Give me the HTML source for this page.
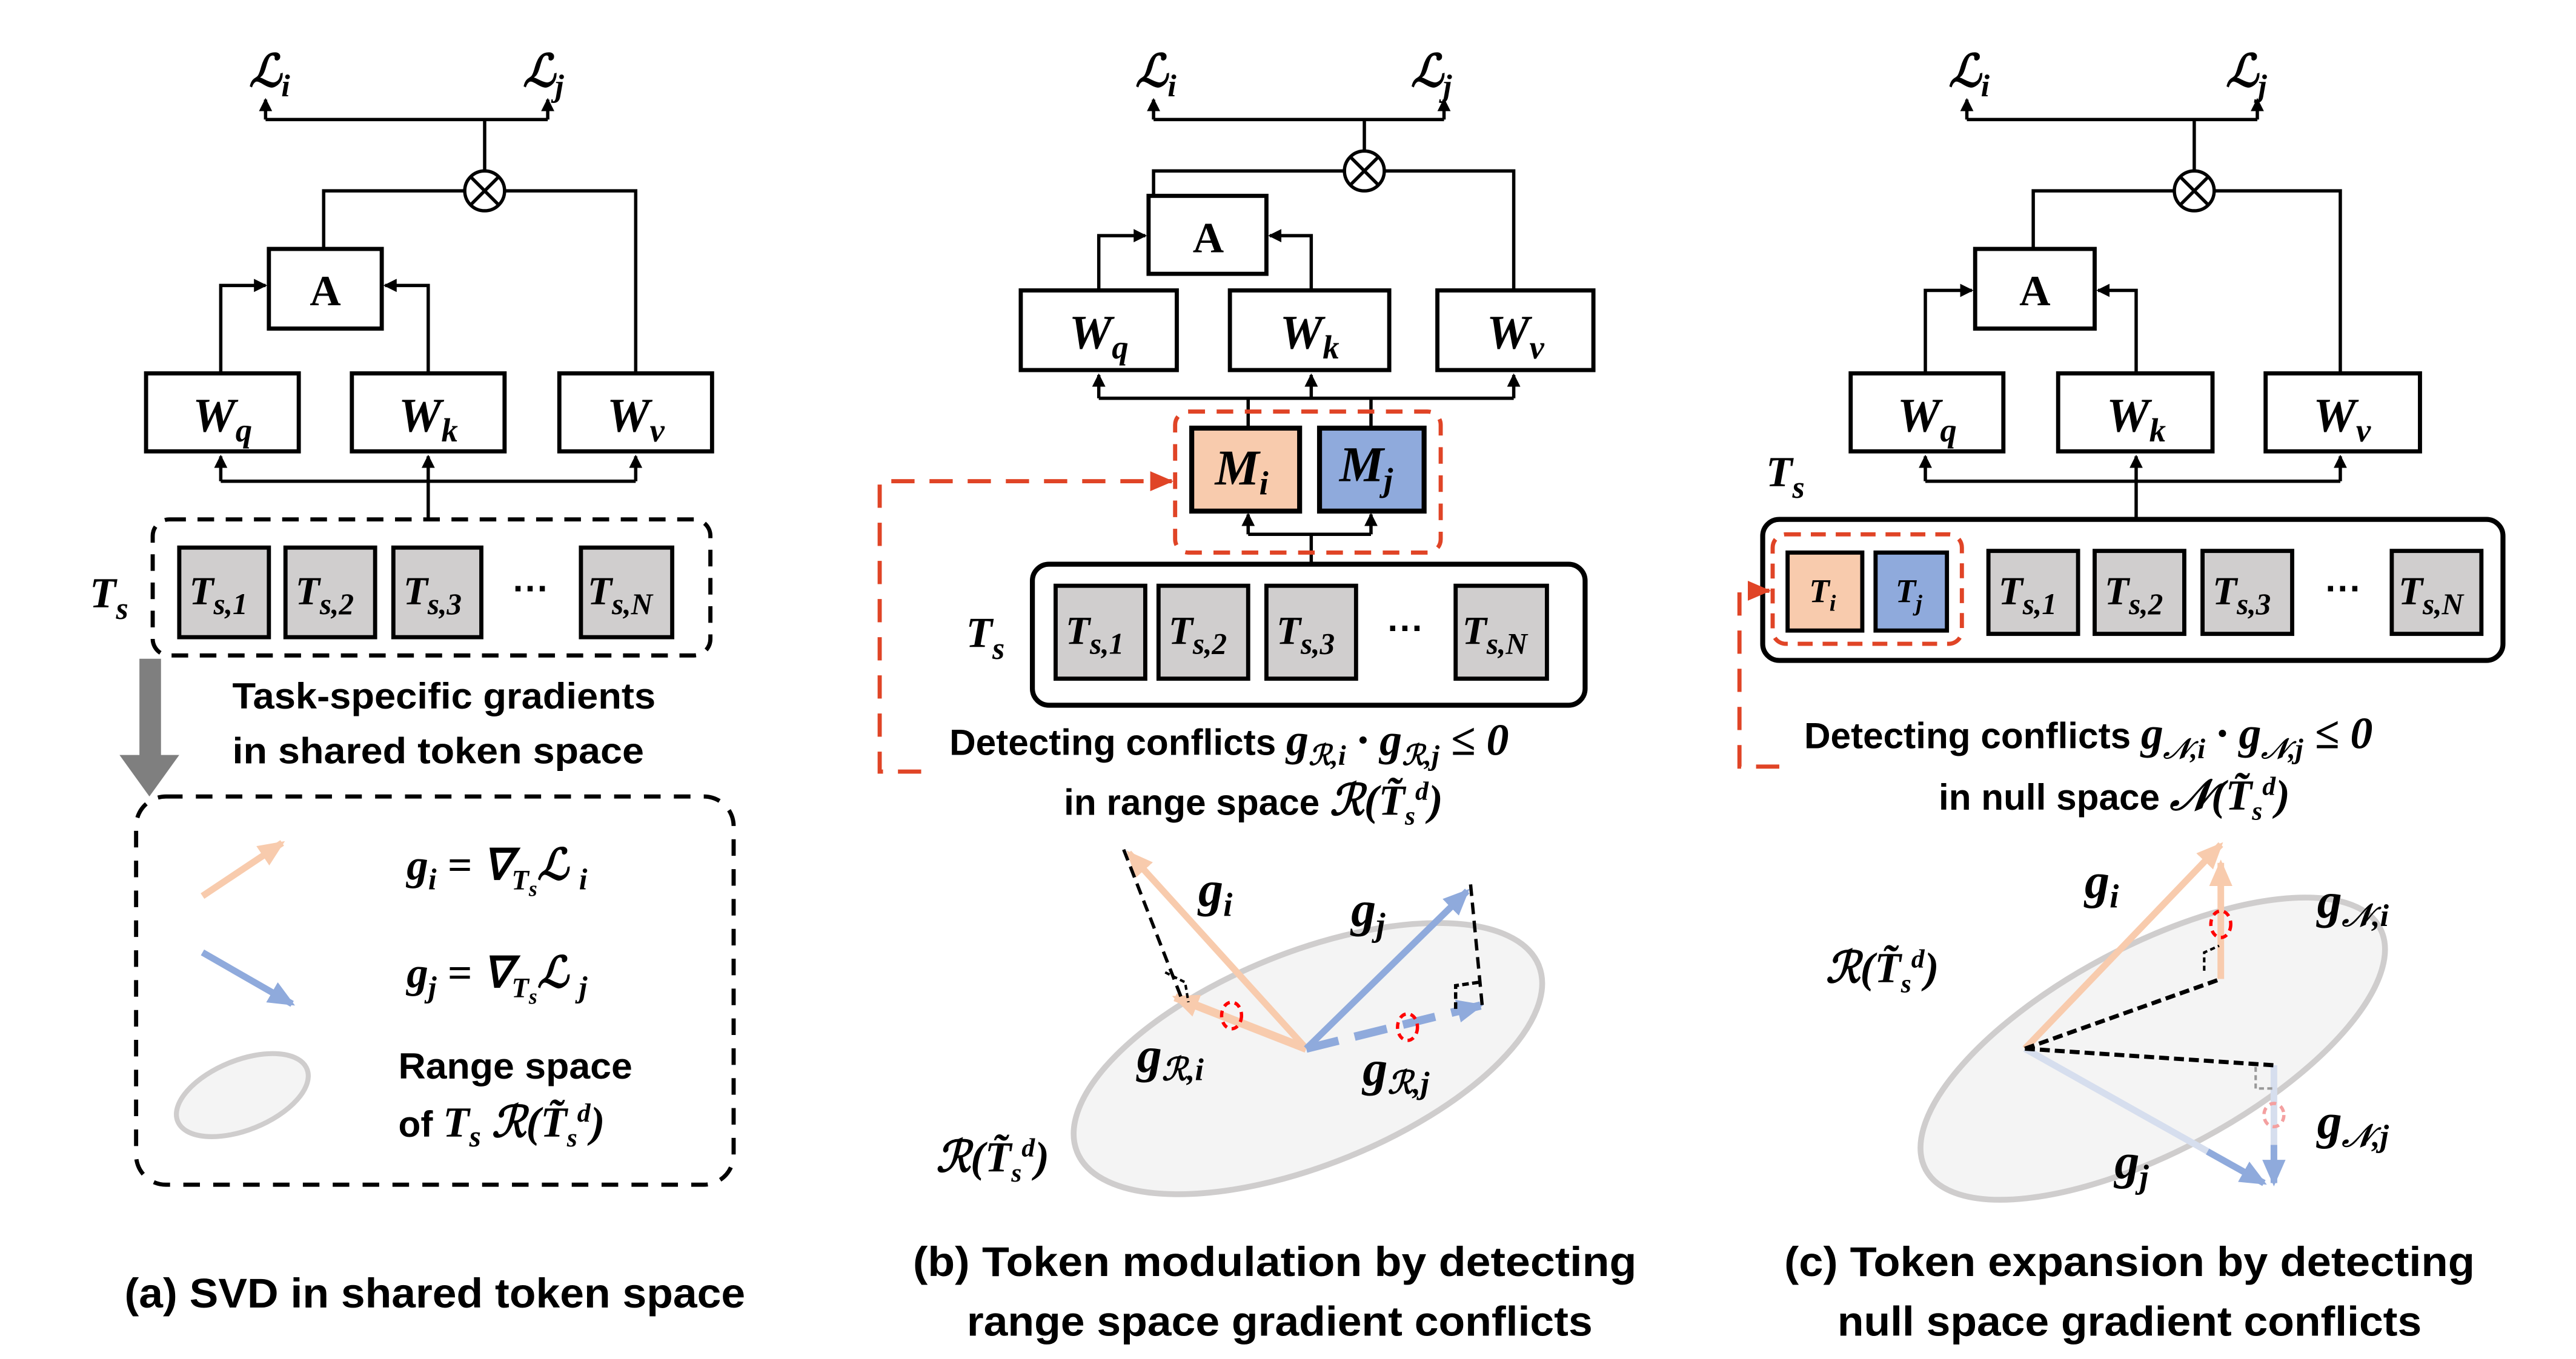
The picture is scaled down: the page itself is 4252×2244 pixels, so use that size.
<!DOCTYPE html>
<html><head><meta charset="utf-8"><style>
html,body{margin:0;padding:0;background:#fff;}
svg{display:block;}
.m{font-family:"Liberation Serif",serif;font-style:italic;font-weight:bold;}
.t{font-family:"Liberation Sans",sans-serif;font-weight:bold;}
</style></head><body>
<svg width="4252" height="2244" viewBox="0 0 1552 819" xmlns="http://www.w3.org/2000/svg">
<defs>
<marker id="ar" markerWidth="8" markerHeight="8" refX="7" refY="4" orient="auto" markerUnits="userSpaceOnUse"><path d="M0,0 L8,4 L0,8 z" fill="#000"/></marker>
<marker id="rr" markerWidth="14" markerHeight="12" refX="13" refY="6" orient="auto" markerUnits="userSpaceOnUse"><path d="M0,0 L14,6 L0,12 z" fill="#E04426"/></marker>
<marker id="po" markerWidth="16" markerHeight="14" refX="14" refY="7" orient="auto" markerUnits="userSpaceOnUse"><path d="M0,0 L16,7 L0,14 z" fill="#F8CBAD"/></marker>
<marker id="bl" markerWidth="16" markerHeight="14" refX="14" refY="7" orient="auto" markerUnits="userSpaceOnUse"><path d="M0,0 L16,7 L0,14 z" fill="#8FAADC"/></marker>
</defs>
<rect width="1552" height="819" fill="#fff"/>

<!-- ============ PANEL A ============ -->
<g stroke="#000" stroke-width="2" fill="none">
<path d="M160,72 H330"/><path d="M160,72 V60" marker-end="url(#ar)"/><path d="M330,72 V60" marker-end="url(#ar)"/>
<path d="M292,72 V103"/>
<circle cx="292" cy="115" r="12"/><path d="M283.5,106.5 L300.5,123.5 M300.5,106.5 L283.5,123.5"/>
<path d="M280,115 H195 V150"/><path d="M304,115 H383 V225"/>
<path d="M133,225 V172 H160" marker-end="url(#ar)"/><path d="M258,225 V172 H232" marker-end="url(#ar)"/>
<path d="M133,290 H383"/><path d="M133,290 V275" marker-end="url(#ar)"/><path d="M258,290 V275" marker-end="url(#ar)"/><path d="M383,290 V275" marker-end="url(#ar)"/>
<path d="M258,313 V290"/>
</g>
<g stroke="#000" stroke-width="2.5" fill="#fff">
<rect x="162" y="150" width="68" height="48"/>
<rect x="88" y="225" width="92" height="47"/><rect x="212" y="225" width="92" height="47"/><rect x="337" y="225" width="92" height="47"/>
</g>
<text x="196" y="184" class="m" font-size="26" text-anchor="middle" style="font-style:normal">A</text>
<text x="134" y="260" class="m" font-size="29" text-anchor="middle">W<tspan font-size="20" dy="6">q</tspan></text>
<text x="258" y="260" class="m" font-size="29" text-anchor="middle">W<tspan font-size="20" dy="6">k</tspan></text>
<text x="383" y="260" class="m" font-size="29" text-anchor="middle">W<tspan font-size="20" dy="6">v</tspan></text>
<text x="150" y="52" class="m" font-size="27">ℒ<tspan font-size="19" dy="6">i</tspan></text>
<text x="315" y="52" class="m" font-size="27">ℒ<tspan font-size="19" dy="6">j</tspan></text>

<rect x="92" y="313" width="336" height="82" rx="10" fill="none" stroke="#000" stroke-width="2.5" stroke-dasharray="10,7"/>
<text x="54" y="366" class="m" font-size="26">T<tspan font-size="19" dy="7">s</tspan></text>
<g stroke="#000" stroke-width="2.5" fill="#D0CECE">
<rect x="108" y="330" width="54" height="54"/><rect x="172" y="330" width="54" height="54"/><rect x="237" y="330" width="53" height="54"/><rect x="350" y="330" width="55" height="54"/>
</g>
<g class="m" font-size="24">
<text x="114" y="364">T<tspan font-size="18" dy="6">s,1</tspan></text>
<text x="178" y="364">T<tspan font-size="18" dy="6">s,2</tspan></text>
<text x="243" y="364">T<tspan font-size="18" dy="6">s,3</tspan></text>
<text x="354" y="364">T<tspan font-size="18" dy="6">s,N</tspan></text>
</g>
<text x="320" y="362" font-family="Liberation Sans" font-weight="bold" font-size="22" text-anchor="middle">···</text>

<path d="M84,397 H97 V455 H108 L90,480 L72,455 H84 Z" fill="#7F7F7F"/>
<text x="140" y="427" class="t" font-size="22" textLength="255" lengthAdjust="spacingAndGlyphs">Task-specific gradients</text>
<text x="140" y="460" class="t" font-size="22" textLength="248" lengthAdjust="spacingAndGlyphs">in shared token space</text>

<rect x="82" y="480" width="360" height="234" rx="18" fill="none" stroke="#000" stroke-width="2.5" stroke-dasharray="10,8"/>
<line x1="122" y1="540" x2="170" y2="508" stroke="#F8CBAD" stroke-width="4" marker-end="url(#po)"/>
<line x1="122" y1="574" x2="176" y2="605" stroke="#8FAADC" stroke-width="4" marker-end="url(#bl)"/>
<ellipse cx="146" cy="660" rx="42" ry="21" transform="rotate(-22 146 660)" fill="#F4F4F4" stroke="#CFCDCD" stroke-width="3"/>
<text x="245" y="530" class="m" font-size="26">g<tspan font-size="18" dy="6">i</tspan><tspan dy="-6"> = ∇</tspan><tspan font-size="17" dy="6">T</tspan><tspan font-size="13" dy="4">s</tspan><tspan dy="-10">ℒ </tspan><tspan font-size="18" dy="6">i</tspan></text>
<text x="245" y="595" class="m" font-size="26">g<tspan font-size="18" dy="6">j</tspan><tspan dy="-6"> = ∇</tspan><tspan font-size="17" dy="6">T</tspan><tspan font-size="13" dy="4">s</tspan><tspan dy="-10">ℒ </tspan><tspan font-size="18" dy="6">j</tspan></text>
<text x="240" y="650" class="t" font-size="22" textLength="141" lengthAdjust="spacingAndGlyphs">Range space</text>
<text x="240" y="685" class="t" font-size="22">of <tspan class="m" font-size="26">T</tspan><tspan class="m" font-size="18" dy="6">s</tspan><tspan class="m" font-size="26" dy="-6">  ℛ(T̃</tspan><tspan class="m" font-size="16" dy="6">s</tspan><tspan class="m" font-size="16" dy="-15">d</tspan><tspan class="m" font-size="26" dy="9">)</tspan></text>
<text x="262" y="796" class="t" font-size="25" text-anchor="middle" textLength="374" lengthAdjust="spacingAndGlyphs" dy="-8">(a) SVD in shared token space</text>

<!-- ============ PANEL B ============ -->
<g stroke="#000" stroke-width="2" fill="none">
<path d="M695,72 H870"/><path d="M695,72 V60" marker-end="url(#ar)"/><path d="M870,72 V60" marker-end="url(#ar)"/>
<path d="M822,72 V91"/>
<circle cx="822" cy="103" r="12"/><path d="M813.5,94.5 L830.5,111.5 M830.5,94.5 L813.5,111.5"/>
<path d="M810,103 H695 V118"/><path d="M834,103 H912 V175"/>
<path d="M662,175 V142 H690" marker-end="url(#ar)"/><path d="M790,175 V142 H765" marker-end="url(#ar)"/>
<path d="M662,240 H912"/><path d="M662,240 V226" marker-end="url(#ar)"/><path d="M790,240 V226" marker-end="url(#ar)"/><path d="M912,240 V226" marker-end="url(#ar)"/>
<path d="M752,258 V240"/><path d="M826,258 V240"/>
<path d="M790,340 V322"/><path d="M752,322 H826"/><path d="M752,322 V310" marker-end="url(#ar)"/><path d="M826,322 V310" marker-end="url(#ar)"/>
</g>
<g stroke="#000" stroke-width="2.5" fill="#fff">
<rect x="692" y="118" width="71" height="47"/>
<rect x="615" y="175" width="94" height="48"/><rect x="741" y="175" width="96" height="48"/><rect x="866" y="175" width="94" height="48"/>
</g>
<text x="728" y="152" class="m" font-size="26" text-anchor="middle" style="font-style:normal">A</text>
<text x="662" y="210" class="m" font-size="29" text-anchor="middle">W<tspan font-size="20" dy="6">q</tspan></text>
<text x="789" y="210" class="m" font-size="29" text-anchor="middle">W<tspan font-size="20" dy="6">k</tspan></text>
<text x="913" y="210" class="m" font-size="29" text-anchor="middle">W<tspan font-size="20" dy="6">v</tspan></text>
<text x="684" y="52" class="m" font-size="27">ℒ<tspan font-size="19" dy="6">i</tspan></text>
<text x="850" y="52" class="m" font-size="27">ℒ<tspan font-size="19" dy="6">j</tspan></text>

<rect x="708" y="248" width="160" height="85" rx="8" fill="none" stroke="#E04426" stroke-width="2.5" stroke-dasharray="10,7"/>
<rect x="718" y="258" width="65" height="50" fill="#F8CBAD" stroke="#000" stroke-width="3"/>
<rect x="795" y="258" width="63" height="50" fill="#8FAADC" stroke="#000" stroke-width="3"/>
<text x="732" y="292" class="m" font-size="30">M<tspan font-size="20" dy="6">i</tspan></text>
<text x="807" y="290" class="m" font-size="30">M<tspan font-size="20" dy="6">j</tspan></text>
<path d="M555,465 H530 V290 H706" fill="none" stroke="#E04426" stroke-width="2.5" stroke-dasharray="14,9" marker-end="url(#rr)"/>

<rect x="622" y="340" width="333" height="85" rx="10" fill="none" stroke="#000" stroke-width="3"/>
<text x="582" y="390" class="m" font-size="26">T<tspan font-size="19" dy="7">s</tspan></text>
<g stroke="#000" stroke-width="2.5" fill="#D0CECE">
<rect x="636" y="353" width="54" height="56"/><rect x="698" y="353" width="54" height="56"/><rect x="763" y="353" width="54" height="56"/><rect x="877" y="353" width="55" height="56"/>
</g>
<g class="m" font-size="24">
<text x="642" y="388">T<tspan font-size="18" dy="6">s,1</tspan></text>
<text x="704" y="388">T<tspan font-size="18" dy="6">s,2</tspan></text>
<text x="769" y="388">T<tspan font-size="18" dy="6">s,3</tspan></text>
<text x="881" y="388">T<tspan font-size="18" dy="6">s,N</tspan></text>
</g>
<text x="847" y="386" font-family="Liberation Sans" font-weight="bold" font-size="22" text-anchor="middle">···</text>

<text x="572" y="455" class="t" font-size="22">Detecting conflicts <tspan class="m" font-size="27">g</tspan><tspan class="m" font-size="17" dy="6">ℛ,i</tspan><tspan class="m" font-size="27" dy="-6"> · g</tspan><tspan class="m" font-size="17" dy="6">ℛ,j</tspan><tspan class="m" font-size="27" dy="-6"> ≤ 0</tspan></text>
<text x="641" y="491" class="t" font-size="22">in range space <tspan class="m" font-size="26">ℛ(T̃</tspan><tspan class="m" font-size="16" dy="6">s</tspan><tspan class="m" font-size="16" dy="-15">d</tspan><tspan class="m" font-size="26" dy="9">)</tspan></text>

<ellipse cx="788" cy="638" rx="150" ry="64" transform="rotate(-22 788 638)" fill="#F4F4F4" stroke="#CFCDCD" stroke-width="3.5"/>
<line x1="787" y1="632" x2="680" y2="514" stroke="#F8CBAD" stroke-width="4" marker-end="url(#po)"/>
<line x1="787" y1="632" x2="708" y2="601" stroke="#F8CBAD" stroke-width="5" marker-end="url(#po)"/>
<line x1="787" y1="632" x2="884" y2="537" stroke="#8FAADC" stroke-width="4" marker-end="url(#bl)"/>
<line x1="787" y1="632" x2="892" y2="606" stroke="#8FAADC" stroke-width="5" stroke-dasharray="20,10" marker-end="url(#bl)"/>
<path d="M677,512 L712,602" stroke="#000" stroke-width="2" stroke-dasharray="7,4" fill="none"/>
<path d="M702,586 L714,592 L716,604" stroke="#000" stroke-width="1.5" stroke-dasharray="3,2" fill="none"/>
<path d="M886,533 L893,606" stroke="#000" stroke-width="2" stroke-dasharray="7,4" fill="none"/>
<path d="M877,608 L877,594 L891,592" stroke="#000" stroke-width="2" stroke-dasharray="4,2" fill="none"/>
<ellipse cx="742" cy="612" rx="6" ry="8" fill="none" stroke="#f00" stroke-width="2" stroke-dasharray="4,3"/>
<ellipse cx="848" cy="619" rx="6" ry="8" fill="none" stroke="#f00" stroke-width="2" stroke-dasharray="4,3"/>
<text x="722" y="546" class="m" font-size="30">g<tspan font-size="20" dy="6">i</tspan></text>
<text x="814" y="558" class="m" font-size="30">g<tspan font-size="20" dy="6">j</tspan></text>
<text x="685" y="646" class="m" font-size="30">g<tspan font-size="19" dy="5">ℛ,i</tspan></text>
<text x="821" y="654" class="m" font-size="30">g<tspan font-size="19" dy="5">ℛ,j</tspan></text>
<text x="564" y="706" class="m" font-size="26">ℛ(T̃<tspan font-size="16" dy="6">s</tspan><tspan font-size="16" dy="-15">d</tspan><tspan dy="9">)</tspan></text>
<text x="768" y="777" dy="-8" class="t" font-size="25" text-anchor="middle" textLength="436" lengthAdjust="spacingAndGlyphs">(b) Token modulation by detecting</text>
<text x="771" y="813" dy="-8" class="t" font-size="25" text-anchor="middle" textLength="377" lengthAdjust="spacingAndGlyphs">range space gradient conflicts</text>

<!-- ============ PANEL C ============ -->
<g stroke="#000" stroke-width="2" fill="none">
<path d="M1185,72 H1360"/><path d="M1185,72 V60" marker-end="url(#ar)"/><path d="M1360,72 V60" marker-end="url(#ar)"/>
<path d="M1322,72 V103"/>
<circle cx="1322" cy="115" r="12"/><path d="M1313.5,106.5 L1330.5,123.5 M1330.5,106.5 L1313.5,123.5"/>
<path d="M1310,115 H1225 V150"/><path d="M1334,115 H1410 V225"/>
<path d="M1160,225 V175 H1188" marker-end="url(#ar)"/><path d="M1287,225 V175 H1264" marker-end="url(#ar)"/>
<path d="M1160,290 H1410"/><path d="M1160,290 V275" marker-end="url(#ar)"/><path d="M1287,290 V275" marker-end="url(#ar)"/><path d="M1410,290 V275" marker-end="url(#ar)"/>
<path d="M1287,313 V290"/>
</g>
<g stroke="#000" stroke-width="2.5" fill="#fff">
<rect x="1190" y="150" width="72" height="48"/>
<rect x="1115" y="225" width="92" height="47"/><rect x="1240" y="225" width="93" height="47"/><rect x="1365" y="225" width="93" height="47"/>
</g>
<text x="1226" y="184" class="m" font-size="26" text-anchor="middle" style="font-style:normal">A</text>
<text x="1161" y="260" class="m" font-size="29" text-anchor="middle">W<tspan font-size="20" dy="6">q</tspan></text>
<text x="1287" y="260" class="m" font-size="29" text-anchor="middle">W<tspan font-size="20" dy="6">k</tspan></text>
<text x="1411" y="260" class="m" font-size="29" text-anchor="middle">W<tspan font-size="20" dy="6">v</tspan></text>
<text x="1174" y="52" class="m" font-size="27">ℒ<tspan font-size="19" dy="6">i</tspan></text>
<text x="1341" y="52" class="m" font-size="27">ℒ<tspan font-size="19" dy="6">j</tspan></text>
<text x="1064" y="293" class="m" font-size="26">T<tspan font-size="19" dy="7">s</tspan></text>

<rect x="1062" y="313" width="446" height="85" rx="10" fill="none" stroke="#000" stroke-width="3"/>
<rect x="1068" y="322" width="114" height="66" rx="8" fill="none" stroke="#E04426" stroke-width="2.5" stroke-dasharray="9,6"/>
<rect x="1077" y="333" width="45" height="47" fill="#F8CBAD" stroke="#000" stroke-width="2.5"/>
<rect x="1130" y="333" width="43" height="47" fill="#8FAADC" stroke="#000" stroke-width="2.5"/>
<text x="1090" y="363" class="m" font-size="20">T<tspan font-size="14" dy="5">i</tspan></text>
<text x="1142" y="363" class="m" font-size="20">T<tspan font-size="14" dy="5">j</tspan></text>
<path d="M1072,462 H1048 V356 H1066" fill="none" stroke="#E04426" stroke-width="2.5" stroke-dasharray="14,9" marker-end="url(#rr)"/>
<g stroke="#000" stroke-width="2.5" fill="#D0CECE">
<rect x="1198" y="332" width="54" height="50"/><rect x="1262" y="332" width="54" height="50"/><rect x="1327" y="332" width="54" height="50"/><rect x="1441" y="332" width="54" height="50"/>
</g>
<g class="m" font-size="24">
<text x="1204" y="364">T<tspan font-size="18" dy="6">s,1</tspan></text>
<text x="1268" y="364">T<tspan font-size="18" dy="6">s,2</tspan></text>
<text x="1333" y="364">T<tspan font-size="18" dy="6">s,3</tspan></text>
<text x="1445" y="364">T<tspan font-size="18" dy="6">s,N</tspan></text>
</g>
<text x="1412" y="362" font-family="Liberation Sans" font-weight="bold" font-size="22" text-anchor="middle">···</text>

<text x="1087" y="451" class="t" font-size="22">Detecting conflicts <tspan class="m" font-size="27">g</tspan><tspan class="m" font-size="17" dy="6">𝒩,i</tspan><tspan class="m" font-size="27" dy="-6"> · g</tspan><tspan class="m" font-size="17" dy="6">𝒩,j</tspan><tspan class="m" font-size="27" dy="-6"> ≤ 0</tspan></text>
<text x="1168" y="488" class="t" font-size="22">in null space <tspan class="m" font-size="26">𝒩(T̃</tspan><tspan class="m" font-size="16" dy="6">s</tspan><tspan class="m" font-size="16" dy="-15">d</tspan><tspan class="m" font-size="26" dy="9">)</tspan></text>

<ellipse cx="1297" cy="632" rx="155" ry="62" transform="rotate(-28 1297 632)" fill="#F4F4F4" stroke="#CFCDCD" stroke-width="3.5"/>
<line x1="1220" y1="632" x2="1338" y2="509" stroke="#F8CBAD" stroke-width="4" marker-end="url(#po)"/>
<line x1="1338" y1="590" x2="1338" y2="520" stroke="#F8CBAD" stroke-width="4" marker-end="url(#po)"/>
<line x1="1220" y1="632" x2="1364" y2="713" stroke="#D6DEEE" stroke-width="4"/>
<line x1="1330" y1="694" x2="1364" y2="713" stroke="#8FAADC" stroke-width="4" marker-end="url(#bl)"/>
<line x1="1370" y1="642" x2="1370" y2="712" stroke="#D6DEEE" stroke-width="4"/>
<line x1="1370" y1="690" x2="1370" y2="713" stroke="#8FAADC" stroke-width="4" marker-end="url(#bl)"/>
<path d="M1220,632 L1338,590" stroke="#000" stroke-width="2.5" stroke-dasharray="6,3" fill="none"/>
<path d="M1220,632 L1370,642" stroke="#000" stroke-width="2.5" stroke-dasharray="6,3" fill="none"/>
<path d="M1328,585 V574 L1337,570" stroke="#000" stroke-width="1.5" stroke-dasharray="3,2" fill="none"/>
<path d="M1359,643 V656 H1370" stroke="#999" stroke-width="1.5" stroke-dasharray="3,2" fill="none"/>
<ellipse cx="1338" cy="557" rx="6" ry="8" fill="none" stroke="#f00" stroke-width="2" stroke-dasharray="4,3"/>
<ellipse cx="1370" cy="672" rx="6" ry="7" fill="none" stroke="#F4A0A0" stroke-width="2" stroke-dasharray="4,3"/>
<text x="1256" y="541" class="m" font-size="30">g<tspan font-size="20" dy="6">i</tspan></text>
<text x="1396" y="553" class="m" font-size="30">g<tspan font-size="19" dy="5">𝒩,i</tspan></text>
<text x="1100" y="592" class="m" font-size="26">ℛ(T̃<tspan font-size="16" dy="6">s</tspan><tspan font-size="16" dy="-15">d</tspan><tspan dy="9">)</tspan></text>
<text x="1396" y="686" class="m" font-size="30">g<tspan font-size="19" dy="5">𝒩,j</tspan></text>
<text x="1274" y="710" class="m" font-size="30">g<tspan font-size="20" dy="6">j</tspan></text>
<text x="1283" y="777" dy="-8" class="t" font-size="25" text-anchor="middle" textLength="416" lengthAdjust="spacingAndGlyphs">(c) Token expansion by detecting</text>
<text x="1283" y="813" dy="-8" class="t" font-size="25" text-anchor="middle" textLength="352" lengthAdjust="spacingAndGlyphs">null space gradient conflicts</text>
</svg>
</body></html>
